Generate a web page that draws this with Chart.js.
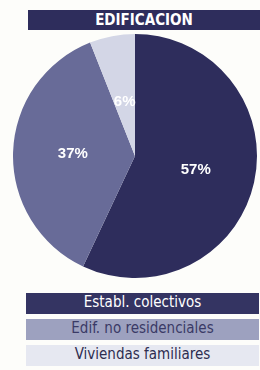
<!DOCTYPE html>
<html>
<head>
<meta charset="utf-8">
<script src="https://cdn.jsdelivr.net/npm/chart.js@4/dist/chart.umd.min.js"></script>
<style>
  body { margin: 0; background: #fdfdfa; width: 260px; height: 370px; position: relative; overflow: hidden; }
  .titulo { position: absolute; left: 28px; top: 10px; width: 232px; height: 20px; background: #2e2d5c;
    color: #fff; font: bold 15px 'DejaVu Sans Condensed', 'DejaVu Sans', sans-serif; font-stretch: condensed;
    text-align: center; line-height: 21px; }
  #wpr { position: absolute; left: 13px; top: 34px; width: 244px; height: 244px; }
  .leyenda { position: absolute; left: 26px; width: 233px; height: 21px; text-align: center; line-height: 21px;
    font: 15px 'DejaVu Sans Condensed', 'DejaVu Sans', sans-serif; font-stretch: condensed; }
</style>
</head>
<body>
<div class="titulo" id="titulo"></div>
<div id="wpr"><canvas id="pie"></canvas></div>
<div id="leyendas"></div>
<script>
const titulo = 'EDIFICACION'
const categorias = ['Establ. colectivos', 'Edif. no residenciales', 'Viviendas familiares']
const valores = [57, 37, 6]
const colores = ['#2e2d5c', '#686b98', '#d3d6e6']
const coloresLeyenda = ['#343462', '#9da1bf', '#e6e8f1']
const textoLeyenda = ['#ffffff', '#3a3a66', '#2e2d50']

document.getElementById('titulo').textContent = titulo

// leyenda en bandas, una por categoria
const tops = [293, 319, 345]
categorias.forEach((cat, i) => {
    let d = document.createElement('div')
    d.classList.add('leyenda')
    d.style.top = tops[i] + 'px'
    d.style.background = coloresLeyenda[i]
    d.style.color = textoLeyenda[i]
    d.textContent = cat
    document.getElementById('leyendas').appendChild(d)
})

// pinta los porcentajes dentro de cada sector
const etiquetas = {
    id: 'etiquetas',
    afterDatasetsDraw(chart) {
        const ctx = chart.ctx
        const meta = chart.getDatasetMeta(0)
        ctx.save()
        ctx.fillStyle = '#ffffff'
        ctx.font = 'bold 15px "Liberation Sans", sans-serif'
        ctx.textAlign = 'center'
        ctx.textBaseline = 'middle'
        meta.data.forEach((arc, i) => {
            const p = arc.getProps(['x', 'y', 'startAngle', 'endAngle', 'outerRadius'], true)
            const mid = (p.startAngle + p.endAngle) / 2
            const r = p.outerRadius * (i == 2 ? 0.45 : 0.51)
            ctx.fillText(valores[i] + '%', p.x + Math.cos(mid) * r, p.y + Math.sin(mid) * r)
        })
        ctx.restore()
    }
}

new Chart(document.getElementById('pie'), {
    type: 'pie',
    data: {
        labels: categorias,
        datasets: [{ data: valores, backgroundColor: colores, borderWidth: 0 }]
    },
    options: {
        responsive: true,
        maintainAspectRatio: false,
        animation: false,
        plugins: { legend: { display: false }, tooltip: { enabled: false } }
    },
    plugins: [etiquetas]
})
</script>
</body>
</html>
